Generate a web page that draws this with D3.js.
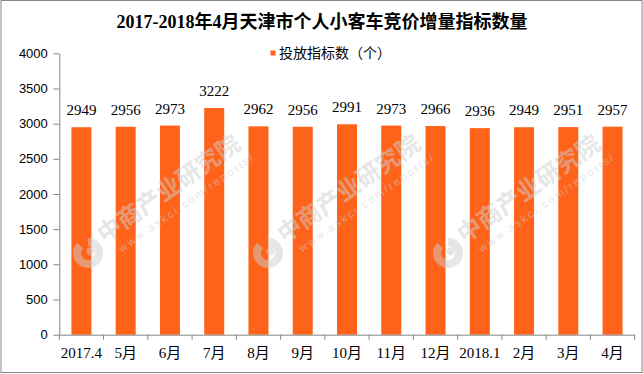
<!DOCTYPE html>
<html>
<head>
<meta charset="utf-8">
<script src="https://cdn.jsdelivr.net/npm/d3@7/dist/d3.min.js"></script>
<style>
    html, body { margin: 0; padding: 0; background: #fff; }
    svg { display: block; }
</style>
</head>
<body>
<div class="chart"></div>
<script>
var categories = ["2017.4", "5月", "6月", "7月", "8月", "9月", "10月", "11月", "12月", "2018.1", "2月", "3月", "4月"];
var quotaValues = [2949, 2956, 2973, 3222, 2962, 2956, 2991, 2973, 2966, 2936, 2949, 2951, 2957];
var yTicks = [0, 500, 1000, 1500, 2000, 2500, 3000, 3500, 4000];
var titleText = "2017-2018年4月天津市个人小客车竞价增量指标数量";
var legendText = "投放指标数（个）";

var width = 643,
    height = 374,
    plotLeft = 59.3,
    plotRight = 634.7,
    plotTop = 53.3,
    plotBottom = 334.7,
    barColor = "#ff6319",
    axisColor = "#868686",
    serif = "'Liberation Serif', 'Noto Sans CJK SC', serif",
    sans = "'Liberation Sans', Arial, sans-serif";

var svg = d3.select(".chart").append("svg")
    .attr("width", width)
    .attr("height", height);

svg.append("rect")
    .attr("width", width).attr("height", height)
    .attr("fill", "#fff");

var x = d3.scaleBand()
    .domain(categories)
    .range([plotLeft, plotRight])
    .paddingInner(0.548)
    .paddingOuter(0.274);

var y = d3.scaleLinear()
    .domain([0, 4000])
    .range([plotBottom, plotTop]);

//title
svg.append("text")
    .attr("x", width / 2 + 0.5)
    .attr("y", 28)
    .attr("text-anchor", "middle")
    .style("font-family", serif)
    .style("font-weight", "bold")
    .style("font-size", "18px")
    .text(titleText);

//legend
svg.append("rect")
    .attr("x", 270.5).attr("y", 50.5)
    .attr("width", 5).attr("height", 5)
    .attr("fill", barColor);

svg.append("text")
    .attr("x", 279)
    .attr("y", 57.5)
    .style("font-family", serif)
    .style("font-size", "14px")
    .text(legendText);

//bars
svg.append("g").selectAll("rect")
    .data(quotaValues)
    .enter()
    .append("rect")
    .attr("x", function(d, i) { return x(categories[i]); })
    .attr("y", function(d) { return y(d); })
    .attr("width", x.bandwidth())
    .attr("height", function(d) { return y(0) - y(d); })
    .attr("fill", barColor);

//value labels
svg.append("g").selectAll("text")
    .data(quotaValues)
    .enter()
    .append("text")
    .attr("x", function(d, i) { return x(categories[i]) + x.bandwidth() / 2; })
    .attr("y", function(d) { return y(d) - 12; })
    .attr("text-anchor", "middle")
    .style("font-family", serif)
    .style("font-size", "15px")
    .text(function(d) { return d; });

//y axis
var yAxis = svg.append("g")
    .attr("transform", "translate(" + plotLeft + ",0)")
    .call(d3.axisLeft(y).tickValues(yTicks).tickFormat(d3.format("d"))
        .tickSize(6).tickSizeOuter(0).tickPadding(5.5));

yAxis.selectAll("path, line").attr("stroke", axisColor);
yAxis.selectAll("text")
    .style("font-family", sans)
    .style("font-size", "13px")
    .attr("fill", "#000");

//x axis - labels centred in bands, ticks on band edges
var xAxis = svg.append("g")
    .attr("transform", "translate(0," + plotBottom + ")")
    .call(d3.axisBottom(x).tickSize(0).tickSizeOuter(0).tickPadding(13));

xAxis.select(".domain").attr("stroke", axisColor);
xAxis.selectAll("text")
    .style("font-family", serif)
    .style("font-size", "15px")
    .attr("fill", "#000");

var edges = categories.map(function(c) { return x(c) - x.step() * x.paddingInner() / 2; });
edges.push(plotRight);

xAxis.selectAll(".edge")
    .data(edges)
    .enter()
    .append("line")
    .attr("class", "edge")
    .attr("x1", function(d) { return d; })
    .attr("x2", function(d) { return d; })
    .attr("y1", 0)
    .attr("y2", 5)
    .attr("stroke", axisColor);

//watermark (only the copies that sit fully inside the frame)
var marks = [[88, 253], [268, 253], [448, 253]].map(function(p) {
    return { lx: p[0], ly: p[1] };
});

var wm = svg.append("g")
    .attr("fill", "#cfcfcf")
    .attr("opacity", 0.5)
    .style("pointer-events", "none");

var wmItem = wm.selectAll("g")
    .data(marks)
    .enter()
    .append("g")
    .attr("transform", function(d) { return "translate(" + d.lx + "," + d.ly + ") rotate(-35)"; });

wmItem.append("path")
    .attr("d", d3.arc()({ innerRadius: 7, outerRadius: 15, startAngle: 0.6, endAngle: 2 * Math.PI - 0.2 }));

wmItem.append("circle")
    .attr("cx", 3).attr("cy", 0).attr("r", 4);

wmItem.append("text")
    .attr("x", 19)
    .attr("y", 2)
    .style("font-family", "'Noto Sans CJK SC', sans-serif")
    .style("font-weight", "bold")
    .style("font-size", "24px")
    .text("中商产业研究院");

wmItem.append("text")
    .attr("x", 28)
    .attr("y", 19)
    .style("font-family", sans)
    .style("font-size", "11px")
    .style("letter-spacing", "2.2px")
    .text("www.askci.com/reports/");

//outer frame
svg.append("rect")
    .attr("x", 1).attr("y", 0.5)
    .attr("width", 641).attr("height", 372)
    .attr("fill", "none")
    .attr("stroke", "#898989");
</script>
</body>
</html>
